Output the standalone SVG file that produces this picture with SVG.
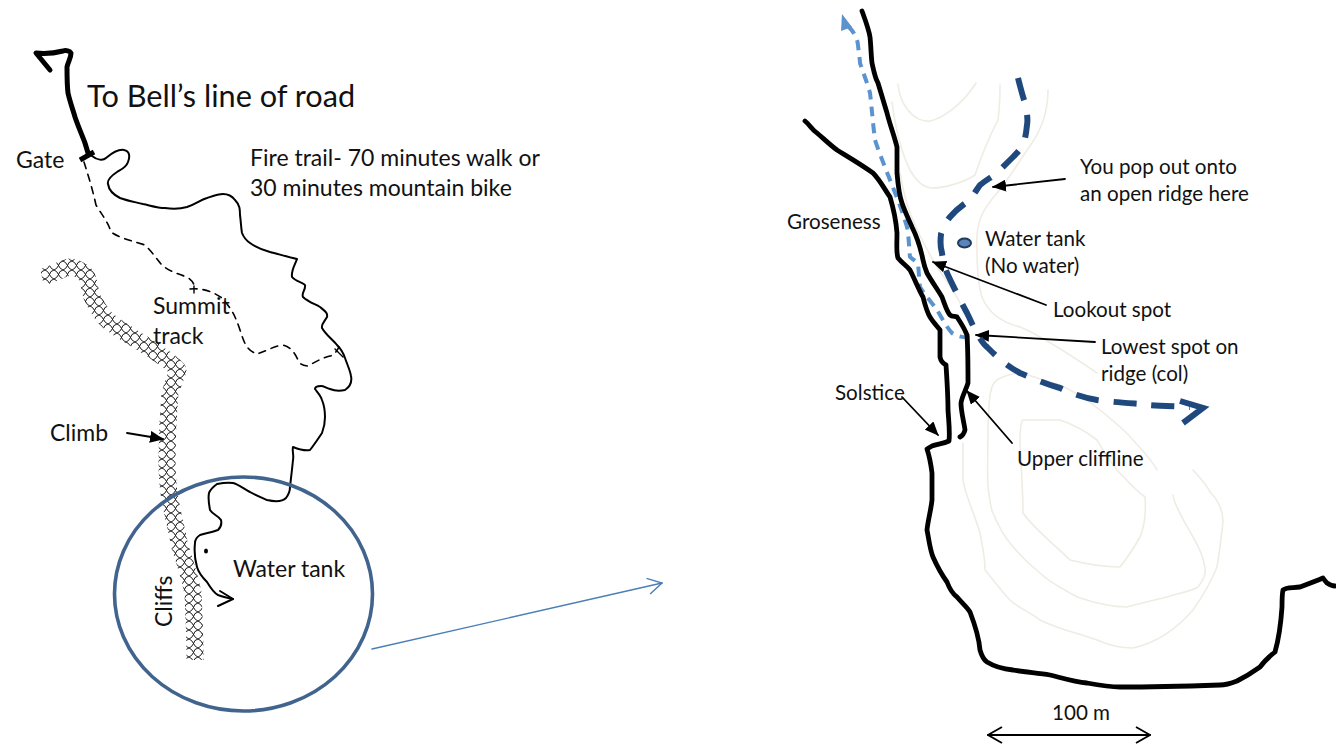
<svg xmlns="http://www.w3.org/2000/svg" width="1336" height="748" viewBox="0 0 1336 748">
<style>
text{font-family:Lato,"Liberation Sans",sans-serif;fill:#111}
.big{font-size:30.7px}.mid{font-size:23px}.sm{font-size:20.600px}
.road,.cliff,.thin,.dash,.contour,.ptr,.dk,.lt,.hatch,.line{fill:none;stroke-linecap:round;stroke-linejoin:round}
.road{stroke:#000;stroke-width:5}
.cliff{stroke:#000;stroke-width:4.800}
.thin{stroke:#000;stroke-width:2}
.dash{stroke:#000;stroke-width:1.600;stroke-dasharray:7 6}
.contour{stroke:#efece4;stroke-width:1.600}
.ptr{stroke:#000;stroke-width:1.800;marker-end:url(#tri)}
.dk{stroke:#1f497d;stroke-width:6;stroke-dasharray:23 15;stroke-linecap:butt}
.lt{stroke:#5b93cf;stroke-width:4;stroke-dasharray:10 7;stroke-linecap:butt}
.hatch{stroke:url(#scale);stroke-width:17;stroke-linecap:butt}
</style>
<defs>
<pattern id="scale" width="9" height="9" patternUnits="userSpaceOnUse">
<path d="M0 0Q3 1 4.500 4.500Q6 8 9 9M9 0Q5 1 4.500 4.500Q3 8 0 9" stroke="#000" stroke-width="0.900" fill="none"/>
</pattern>
<marker id="tri" markerUnits="userSpaceOnUse" markerWidth="14" markerHeight="12" refX="13" refY="6" orient="auto"><path d="M0 0L14 6L0 12Z" fill="#000"/></marker>
<marker id="open" markerUnits="userSpaceOnUse" markerWidth="16" markerHeight="18" refX="15" refY="9" orient="auto-start-reverse"><path d="M1 1L15 9L1 17" stroke="#000" stroke-width="1.800" fill="none"/></marker>
<marker id="openb" markerUnits="userSpaceOnUse" markerWidth="16" markerHeight="18" refX="15" refY="9" orient="auto"><path d="M1 1L15 9L1 17" stroke="#4a7eb5" stroke-width="1.400" fill="none"/></marker>
</defs>
<g id="contours">
<path class="contour" d="M898 84C899 95 902 103 908 110C914 118 923 122 930 121C943 118 962 105 976 83"/>
<path class="contour" d="M892 102C895 125 900 150 910 170C917 182 923 187 932 188C945 188 965 182 975 175C980 160 985 145 998 120C1000 105 1000 95 1000 85"/>
<path class="contour" d="M1048 90C1048 110 1042 128 1032 143C1020 160 1008 180 997 193C985 207 975 220 977 248C977 268 978 285 982 297C988 312 1000 322 1020 327C1040 335 1075 358 1097 373"/>
<path class="contour" d="M1193 470C1200 478 1207 485 1210 492C1218 500 1223 510 1223 522C1221 540 1219 555 1217 567C1210 585 1200 600 1193 610C1180 625 1160 642 1133 648C1120 648 1108 645 1097 640C1075 632 1060 630 1040 620C1030 612 1018 608 1010 600C1000 590 992 578 985 570C985 555 982 545 980 533C975 515 965 495 963 480V443"/>
<path class="contour" d="M900 173C903 190 906 205 913 220C920 238 930 255 937 267C947 282 955 292 960 303M997 380C990 385 989 395 988 430C988 450 987 470 988 487C990 500 990 507 993 513C998 525 1003 535 1010 543C1020 556 1030 565 1040 573C1050 583 1065 590 1077 597C1095 603 1110 607 1127 607C1140 603 1155 600 1167 597C1178 593 1190 592 1198 587C1203 580 1206 575 1205 568C1203 555 1198 545 1193 537C1185 522 1175 508 1173 495M997 380C1005 375 1015 373 1023 373C1035 378 1048 381 1060 385C1075 392 1090 402 1100 410C1112 420 1125 430 1133 440C1142 450 1152 460 1157 470"/>
<path class="contour" d="M1020 443C1020 428 1021 422 1023 420H1060C1075 425 1088 433 1097 440C1103 450 1110 462 1117 470C1125 478 1135 490 1145 497C1146 510 1145 525 1140 537C1134 548 1127 558 1120 567C1105 567 1090 565 1070 560C1055 545 1035 530 1023 513C1023 490 1021 465 1020 443"/>
</g>
<g id="connectors">
<path class="thin" d="M92 156C97 160 103 161 106 158C112 153 118 149 124 150C130 151 130 157 128 162C126 168 120 170 117 172C111 176 107 180 108 184C109 191 114 195 120 198C128 201 135 202 143 204C152 206 158 208 165 208C172 209 180 209 187 207C196 204 200 200 207 198C213 196 218 194 223 194C229 194 232 196 235 200C240 205 240 210 240 215C241 222 241 228 242 233C244 238 247 241 250 243C257 248 263 250 270 252C278 254 288 257 297 259C295 265 291 270 292 277C296 282 303 282 305 285C306 290 301 293 303 297C308 302 315 304 320 307C325 311 328 313 327 317C325 321 321 324 322 328C326 335 333 340 337 345C341 349 343 352 345 358C347 364 350 370 351 376C352 381 351 386 345 390C340 391 335 391 330 389C326 388 324 386 321 386C317 386 315 387 315 389C318 393 321 396 322 400C324 405 325 411 325 417C325 424 324 428 322 433C318 439 314 445 310 450C305 451 298 449 293 447C292 451 294 455 293 460C292 470 291 478 290 487C290 491 289 494 286 498C282 502 276 502 267 500C260 497 255 495 250 492C244 489 238 484 233 483C227 482 222 483 217 484C213 487 210 490 209 493C208 498 209 505 210 510C213 515 219 516 221 520C222 524 221 527 218 530C213 532 206 533 200 535C197 537 195 540 195 543C194 552 195 560 197 567C199 574 203 578 207 582C210 587 214 593 218 595C223 597 228 598 233 599"/>
<path class="thin" d="M220 591L233 599L218 606"/>
<path class="dash" d="M84 162C88 175 92 187 96 205C102 215 108 222 111 232C118 237 128 240 145 245C152 252 156 258 161 264C167 270 175 273 187 277C192 280 195 284 194 289M190 289C202 288 212 291 222 298C231 308 235 315 240 330C244 342 246 350 257 354C264 352 272 347 282 345C289 346 294 351 298 360C300 365 304 366 308 366C315 362 322 358 330 356C335 355 337 350 339 347"/>
<path class="line" d="M194 286V293M335 349L343 357" stroke="#000" stroke-width="1.400"/>
<line class="ptr" x1="127" y1="433" x2="163" y2="439"/>
<path class="line" d="M372 649L662 583" stroke="#4a7eb5" stroke-width="1.400" marker-end="url(#openb)"/>
<line class="ptr" x1="1065" y1="179" x2="993" y2="187"/>
<line class="ptr" x1="1046" y1="305" x2="933" y2="262"/>
<line class="ptr" x1="1095" y1="342" x2="976" y2="335"/>
<line class="ptr" x1="902" y1="397" x2="938" y2="435"/>
<line class="ptr" x1="1012" y1="443" x2="967" y2="391"/>
<path class="line" d="M988 735H1150" stroke="#000" stroke-width="1.800" marker-start="url(#open)" marker-end="url(#open)"/>
<path class="lt" d="M848 26C852 30 857 36 858 45C859 55 860 60 860 63C864 75 868 85 870 93C872 110 873 125 875 140C880 155 885 167 890 180C896 195 902 210 907 227C909 238 909 248 910 257C914 260 917 262 918 264C919 272 919 280 920 287C925 295 932 303 937 310C942 318 947 328 952 333C958 337 965 338 973 337"/>
<path d="M842 14L852 27L841 31Z" fill="#5b93cf"/>
<path class="dk" d="M1018 78C1021 90 1023 97 1025 103C1027 112 1028 120 1027 125C1026 135 1025 140 1022 147C1018 152 1016 154 1013 157C1007 163 1002 168 997 173C990 178 985 181 980 185C975 192 972 198 967 202C960 207 955 211 950 217C946 222 943 228 941 234C940 243 941 250 942 253C943 262 945 268 947 273C955 290 961 302 967 313C971 321 973 326 975 330C979 337 983 344 987 347C995 355 1005 365 1020 373C1032 378 1045 384 1060 388C1072 394 1085 398 1097 400C1112 402 1127 403 1140 404C1155 406 1170 406 1190 407"/>
<path d="M1180 401L1203 408L1183 423" stroke="#1f497d" stroke-width="6" fill="none"/>
</g>
<g id="cliffs">
<path class="hatch" d="M42 277C52 275 62 268 70 267C78 268 85 272 87 277C90 285 90 292 92 297C97 306 100 313 107 320C122 332 138 340 153 350C163 358 172 362 178 370C175 380 172 386 170 393C168 415 167 440 167 460C167 475 168 488 170 500C173 515 177 532 180 547C185 562 190 578 193 593C194 615 195 640 195 660"/>
</g>
<g id="road">
<path class="road" d="M50 70L36 53C45 54 55 53 63 51C66 50 70 51 71 53C71 58 68 62 67 67C67 75 67 85 68 93C70 102 73 110 75 117C78 126 82 135 85 143L88 153"/>
</g>
<g id="gate"><line x1="80" y1="160" x2="94" y2="152" stroke="#000" stroke-width="5"/><text class="mid" x="16" y="168">Gate</text></g>
<g id="lens"><ellipse cx="243.500" cy="594" rx="129" ry="117" fill="none" stroke="#41648f" stroke-width="3.600"/></g>
<g id="tank-left"><ellipse cx="206" cy="551" rx="2" ry="2.600" fill="#000"/><text class="mid" x="233" y="577">Water tank</text></g>
<g id="cliff-lines">
<path class="cliff" d="M862 11C866 22 869 30 870 37C871 46 871 55 872 63C874 72 875 78 878 83C881 93 884 103 887 113C890 125 894 135 897 147C897 155 897 165 897 173C898 185 899 195 902 203C905 212 909 220 912 227C916 235 920 245 923 260C924 265 925 268 927 273C932 282 938 290 942 297C945 305 947 312 950 315C952 317 955 316 957 317C961 323 965 330 967 335C968 350 968 370 968 383C966 390 962 396 961 403C961 412 964 422 965 430C964 434 962 436 960 437"/>
<path class="cliff" d="M805 121C810 125 812 130 817 133C823 138 830 145 837 150C850 158 862 165 873 173C880 180 885 190 890 197C893 207 896 220 897 233C897 245 896 252 898 258C902 263 907 266 910 270C915 280 919 290 923 297C925 305 927 312 930 317C933 322 937 326 940 330V357C941 362 944 364 946 365C947 380 948 395 948 410C949 425 950 432 949 441C943 444 937 444 932 446L927 449C929 455 931 465 932 473C932 482 932 492 932 500C931 510 928 520 927 530C929 540 930 550 933 557C937 566 942 575 947 582C950 590 953 594 957 597C962 603 967 607 970 612C975 625 979 638 980 650C982 657 984 660 987 662C995 667 1003 669 1013 670C1025 672 1037 673 1050 675C1062 678 1075 682 1087 683C1098 685 1110 687 1120 687C1150 687 1190 686 1220 685C1226 685 1232 683 1237 681C1245 677 1253 672 1260 667C1265 660 1270 656 1275 652C1279 638 1281 622 1282 607C1282 600 1282 594 1283 590C1286 587 1292 588 1300 587C1308 584 1316 581 1323 578C1325 581 1326 582 1327 583C1330 585 1332 586 1335 586"/>
</g>
<g id="tank-right"><ellipse cx="964.500" cy="243" rx="6.500" ry="4.500" fill="#5b84b8" stroke="#1f3a5f" stroke-width="2"/><text class="sm" x="985" y="246">Water tank</text><text class="sm" x="985" y="273">(No water)</text></g>
<g id="labels">
<text class="big" x="87" y="107">To Bell’s line of road</text>
<text class="mid" x="250" y="166">Fire trail- 70 minutes walk or</text>
<text class="mid" x="250" y="196">30 minutes mountain bike</text>
<text class="mid" x="153" y="314">Summit</text>
<text class="mid" x="153" y="344">track</text>
<text class="mid" x="50" y="441">Climb</text>
<text class="mid" transform="translate(172 627) rotate(-90)">Cliffs</text>
<text class="sm" x="1080" y="174">You pop out onto</text>
<text class="sm" x="1080" y="201">an open ridge here</text>
<text class="sm" x="787" y="229">Groseness</text>
<text class="sm" x="1053" y="317">Lookout spot</text>
<text class="sm" x="1101" y="354">Lowest spot on</text>
<text class="sm" x="1101" y="381">ridge (col)</text>
<text class="sm" x="835" y="400">Solstice</text>
<text class="sm" x="1017" y="466">Upper cliffline</text>
<text class="sm" x="1052" y="720">100 m</text>
</g>
</svg>
